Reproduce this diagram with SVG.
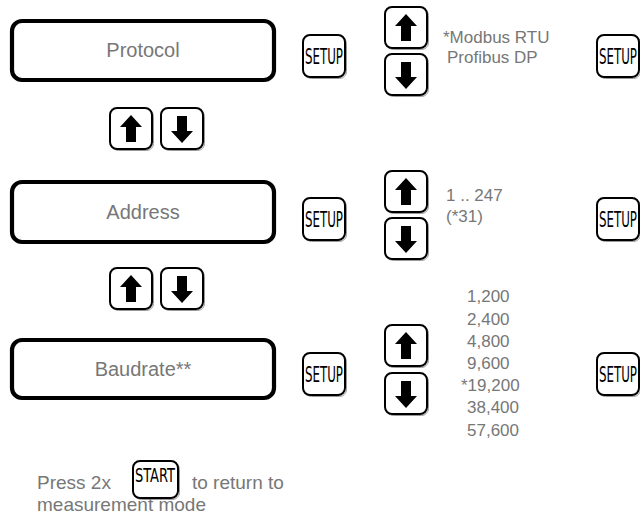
<svg xmlns="http://www.w3.org/2000/svg" width="640" height="530" viewBox="0 0 640 530">
<defs>
<style>
.box{fill:#fff;stroke:#000;stroke-width:4.2}
.btn{fill:#fff;stroke:#000;stroke-width:2}
.shd{fill:none;stroke:#999;stroke-width:1}
.lbl{font-family:"Liberation Sans",Arial,sans-serif;font-size:20px;fill:#777;text-anchor:middle}
.val{font-family:"Liberation Sans",Arial,sans-serif;font-size:17px;fill:#777}
.ftr{font-family:"Liberation Sans",Arial,sans-serif;font-size:19px;fill:#777}
.key{font-family:"Liberation Sans Narrow","DejaVu Sans Condensed",sans-serif;font-size:22px;fill:#000}
.arr{fill:#000}
</style>
<g id="upbtn">
<rect class="shd" x="1.5" y="1.5" width="42" height="41" rx="7"/>
<rect class="btn" x="0" y="0" width="42" height="41" rx="7"/>
<path class="arr" d="M21 7 L32 19 L26 19 L26 34 L16 34 L16 19 L10 19 Z"/>
</g>
<g id="dnbtn">
<rect class="shd" x="1.5" y="1.5" width="42" height="41" rx="7"/>
<rect class="btn" x="0" y="0" width="42" height="41" rx="7"/>
<path class="arr" d="M21 35 L32 23 L26 23 L26 8 L16 8 L16 23 L10 23 Z"/>
</g>
<g id="setup">
<rect class="shd" x="1.5" y="1.5" width="42" height="42" rx="7"/>
<rect class="btn" x="0" y="0" width="42" height="42" rx="7"/>
<text class="key" x="2" y="29" textLength="38" lengthAdjust="spacingAndGlyphs">SETUP</text>
</g>
</defs>

<g id="protocol">
<rect class="box" x="12" y="21" width="262" height="59" rx="10"/>
<text class="lbl" x="143" y="57">Protocol</text>
</g>
<g id="address">
<rect class="box" x="12" y="182" width="262" height="60" rx="10"/>
<text class="lbl" x="143" y="219">Address</text>
</g>
<g id="baudrate">
<rect class="box" x="12" y="340" width="262" height="58" rx="10"/>
<text class="lbl" x="143" y="376">Baudrate**</text>
</g>

<g id="nav1">
<use href="#upbtn" x="110" y="108"/>
<use href="#dnbtn" x="161" y="108"/>
</g>
<g id="nav2">
<use href="#upbtn" x="110" y="268"/>
<use href="#dnbtn" x="161" y="268"/>
</g>

<g id="row1-keys">
<use href="#setup" x="303" y="35"/>
<use href="#upbtn" x="385" y="7"/>
<use href="#dnbtn" x="385" y="54"/>
<use href="#setup" x="597" y="35"/>
</g>
<g id="row1-values">
<text class="val" x="443" y="43">*Modbus RTU</text>
<text class="val" x="447" y="63">Profibus DP</text>
</g>

<g id="row2-keys">
<use href="#setup" x="303" y="198"/>
<use href="#upbtn" x="385" y="171"/>
<use href="#dnbtn" x="385" y="218"/>
<use href="#setup" x="597" y="198"/>
</g>
<g id="row2-values">
<text class="val" x="446" y="201">1 .. 247</text>
<text class="val" x="446" y="222">(*31)</text>
</g>

<g id="row3-keys">
<use href="#setup" x="303" y="353"/>
<use href="#upbtn" x="385" y="325"/>
<use href="#dnbtn" x="385" y="373"/>
<use href="#setup" x="597" y="353"/>
</g>
<g id="row3-values">
<text class="val" x="467" y="302">1,200</text>
<text class="val" x="467" y="325">2,400</text>
<text class="val" x="467" y="347">4,800</text>
<text class="val" x="467" y="369">9,600</text>
<text class="val" x="461" y="391">*19,200</text>
<text class="val" x="467" y="413">38,400</text>
<text class="val" x="467" y="436">57,600</text>
</g>

<g id="footer">
<text class="ftr" x="37" y="489">Press 2x</text>
<g id="start">
<rect class="shd" x="134.5" y="462.5" width="45" height="37" rx="7"/>
<rect class="btn" x="133" y="461" width="45" height="37" rx="7"/>
<text class="key" x="135" y="482" textLength="40" lengthAdjust="spacingAndGlyphs" style="font-size:19px">START</text>
</g>
<text class="ftr" x="192" y="489">to return to</text>
<text class="ftr" x="37" y="511">measurement mode</text>
</g>
</svg>
